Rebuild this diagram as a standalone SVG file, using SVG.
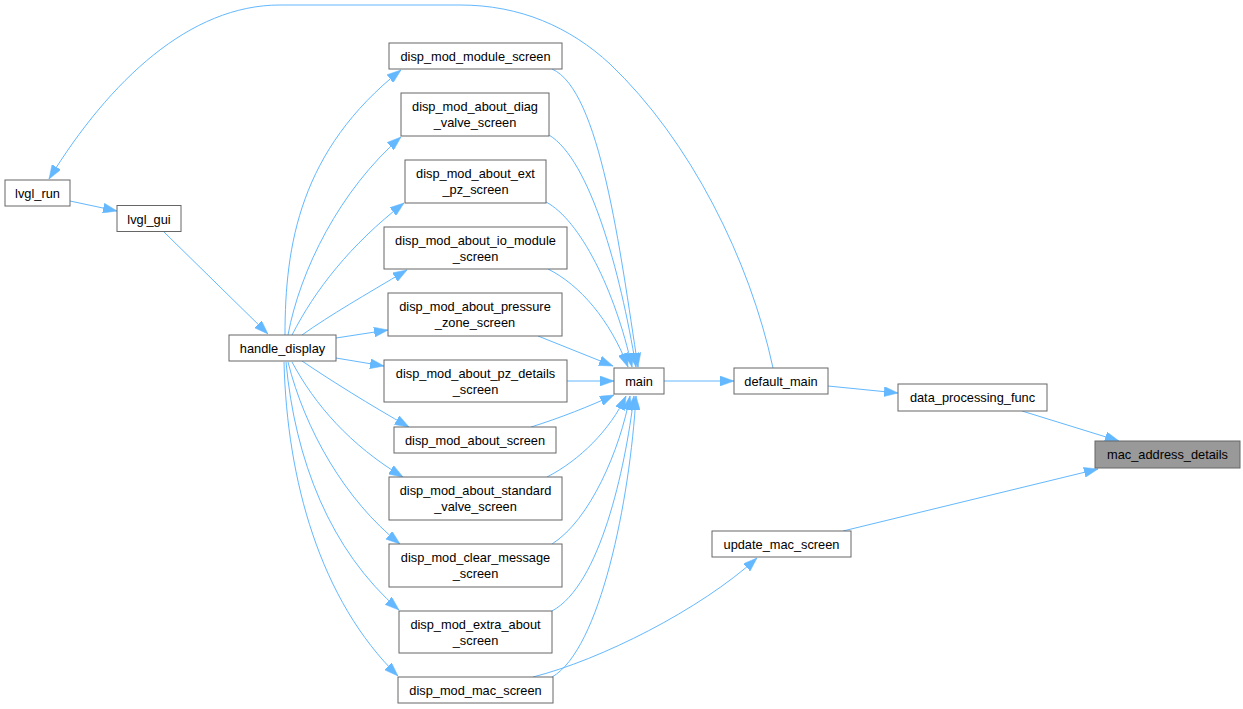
<svg xmlns="http://www.w3.org/2000/svg" width="1243" height="709" viewBox="0 0 1243 709">
<style>
.node rect{fill:#ffffff;stroke:#666666;stroke-width:1}
.node.hl rect{fill:#999999}
.node text{font-family:"Liberation Sans",Arial,sans-serif;font-size:12.8px;fill:#000000;text-anchor:middle}
.edges path{fill:none;stroke:#63b8ff;stroke-width:1;marker-end:url(#arr)}
</style>
<defs>
<marker id="arr" markerUnits="userSpaceOnUse" markerWidth="14" markerHeight="10" viewBox="0 0 14 10" refX="14" refY="5" orient="auto">
<path d="M0,0 L14,5 L0,10 z" fill="#63b8ff" stroke="#63b8ff" stroke-width="0.5"/>
</marker>
</defs>
<rect x="0" y="0" width="1243" height="709" fill="#ffffff"/>
<g id="edges" class="edges">
<path d="M70,201 L117,211"/>
<path d="M164,232 L268,334"/>
<path d="M773,368 C750,260 690,140 610,64 C570,27 520,5 460,5 L280,5 C190,5 110,80 49,179"/>
<path d="M285,335 C285,245 300,150 401,70"/>
<path d="M288,335 C300,270 340,190 401,137"/>
<path d="M292,335 C315,290 350,245 404,203"/>
<path d="M302,335 C330,315 365,295 407,270"/>
<path d="M336,338 L388,330"/>
<path d="M336,358 L384,366"/>
<path d="M302,361 C330,380 370,405 409,427"/>
<path d="M292,362 C315,405 350,445 403,477"/>
<path d="M288,362 C305,430 345,500 400,544"/>
<path d="M286,362 C295,460 330,550 399,610"/>
<path d="M284,362 C287,480 320,600 398,676"/>
<path d="M552,69 C600,90 620,250 638,367"/>
<path d="M549,135 C590,160 620,270 636,367"/>
<path d="M546,202 C580,220 615,290 632,367"/>
<path d="M548,269 C580,285 610,320 628,367"/>
<path d="M538,336 L613,366"/>
<path d="M567,381 L614,381"/>
<path d="M531,427 C560,418 590,406 614,395"/>
<path d="M547,477 C580,460 610,430 626,396"/>
<path d="M552,544 C590,520 620,450 630,396"/>
<path d="M552,611 C600,585 625,470 634,396"/>
<path d="M552,677 C600,650 630,500 636,396"/>
<path d="M664,381 L734,381"/>
<path d="M828,386 L898,393"/>
<path d="M1022,411 L1119,441"/>
<path d="M843,531 L1098,469"/>
<path d="M533,677 C600,660 700,610 757,558"/>
</g>
<g id="lvgl_run" class="node"><rect x="5" y="180" width="65" height="26"/><text x="37.5" y="198">lvgl_run</text></g>
<g id="lvgl_gui" class="node"><rect x="117" y="205.5" width="64" height="26"/><text x="149" y="223.5">lvgl_gui</text></g>
<g id="handle_display" class="node"><rect x="229" y="335" width="107" height="26"/><text x="282.5" y="353">handle_display</text></g>
<g id="disp_mod_module_screen" class="node"><rect x="389" y="43" width="173" height="26"/><text x="475.5" y="61">disp_mod_module_screen</text></g>
<g id="disp_mod_about_diag_valve_screen" class="node"><rect x="401" y="93" width="148" height="43"/><text x="475" y="111">disp_mod_about_diag</text><text x="475" y="127">_valve_screen</text></g>
<g id="disp_mod_about_ext_pz_screen" class="node"><rect x="405" y="160" width="141" height="43"/><text x="475.5" y="178">disp_mod_about_ext</text><text x="475.5" y="194">_pz_screen</text></g>
<g id="disp_mod_about_io_module_screen" class="node"><rect x="384" y="227" width="183" height="42"/><text x="475.5" y="245">disp_mod_about_io_module</text><text x="475.5" y="261">_screen</text></g>
<g id="disp_mod_about_pressure_zone_screen" class="node"><rect x="388" y="293" width="174" height="43"/><text x="475" y="311">disp_mod_about_pressure</text><text x="475" y="327">_zone_screen</text></g>
<g id="disp_mod_about_pz_details_screen" class="node"><rect x="384" y="360" width="183" height="42"/><text x="475.5" y="378">disp_mod_about_pz_details</text><text x="475.5" y="394">_screen</text></g>
<g id="disp_mod_about_screen" class="node"><rect x="394" y="427" width="162" height="26"/><text x="475" y="445">disp_mod_about_screen</text></g>
<g id="disp_mod_about_standard_valve_screen" class="node"><rect x="389" y="477" width="173" height="43"/><text x="475.5" y="495">disp_mod_about_standard</text><text x="475.5" y="511">_valve_screen</text></g>
<g id="disp_mod_clear_message_screen" class="node"><rect x="389" y="544" width="173" height="43"/><text x="475.5" y="562">disp_mod_clear_message</text><text x="475.5" y="578">_screen</text></g>
<g id="disp_mod_extra_about_screen" class="node"><rect x="399" y="611" width="153" height="42"/><text x="475.5" y="629">disp_mod_extra_about</text><text x="475.5" y="645">_screen</text></g>
<g id="disp_mod_mac_screen" class="node"><rect x="398" y="677" width="155" height="26"/><text x="475.5" y="695">disp_mod_mac_screen</text></g>
<g id="main" class="node"><rect x="614" y="368" width="50" height="26"/><text x="639" y="386">main</text></g>
<g id="default_main" class="node"><rect x="734" y="368" width="94" height="26"/><text x="781" y="386">default_main</text></g>
<g id="data_processing_func" class="node"><rect x="898" y="384" width="149" height="27"/><text x="972.5" y="402">data_processing_func</text></g>
<g id="mac_address_details" class="node hl"><rect x="1095" y="441" width="145" height="27"/><text x="1167.5" y="459">mac_address_details</text></g>
<g id="update_mac_screen" class="node"><rect x="712" y="531" width="139" height="26"/><text x="781.5" y="549">update_mac_screen</text></g>
</svg>
